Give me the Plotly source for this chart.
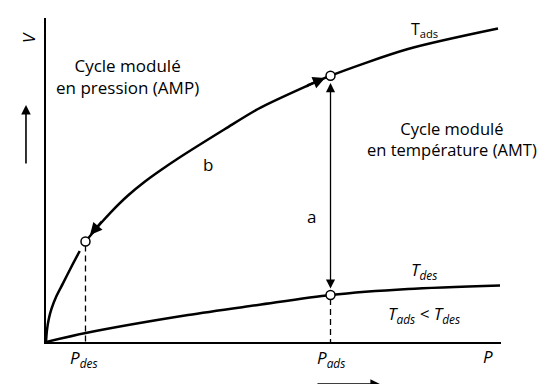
import plotly.graph_objects as go

# ---- data (P, V in arbitrary units) ----
tads_low_p = [0.0, 0.02, 0.06, 0.12, 0.23, 0.37, 0.55, 0.741]
tads_low_v = [0.0, 0.35, 0.70, 1.02, 1.42, 1.80, 2.30, 2.809]
tads_high_p = [0.868, 1.209, 1.429, 1.802, 2.176, 2.527, 2.901, 3.934, 4.659, 5.758, 6.253, 7.956, 9.934]
tads_high_v = [3.10, 3.673, 4.012, 4.522, 4.954, 5.309, 5.664, 6.574, 7.191, 7.917, 8.219, 9.043, 9.676]
tdes_p = [0.0, 0.873, 3.121, 4.659, 6.253, 7.956, 9.978]
tdes_v = [0.0, 0.278, 0.833, 1.142, 1.451, 1.636, 1.744]

p_des = 0.868
p_ads = 6.253
v_des_point = 3.10      # on T_ads at P_des
v_ads_point = 8.219     # on T_ads at P_ads
v_tdes_point = 1.451    # on T_des at P_ads

FONT = "Open Sans"
BLACK = "black"

fig = go.Figure()

curve = dict(color=BLACK, width=2.5, shape="spline", smoothing=0.8)
fig.add_trace(go.Scatter(x=tads_low_p, y=tads_low_v, mode="lines", line=curve, hoverinfo="skip"))
fig.add_trace(go.Scatter(x=tads_high_p, y=tads_high_v, mode="lines", line=curve, hoverinfo="skip"))
fig.add_trace(go.Scatter(x=tdes_p, y=tdes_v, mode="lines", line=curve, hoverinfo="skip"))

# dashed drop lines
fig.add_trace(go.Scatter(x=[p_des, p_des], y=[v_des_point - 0.12, 0], mode="lines",
                         line=dict(color=BLACK, width=1.3, dash="6px,4px"), hoverinfo="skip"))
fig.add_trace(go.Scatter(x=[p_ads, p_ads], y=[v_tdes_point - 0.12, 0], mode="lines",
                         line=dict(color=BLACK, width=1.3, dash="6px,4px"), hoverinfo="skip"))

ann = []

def arrow(x0, y0, x1, y1, width=2, size=1.0, side="end", head=2):
    ann.append(dict(x=x1, y=y1, ax=x0, ay=y0, xref="x", yref="y", axref="x", ayref="y",
                    text="", showarrow=True, arrowhead=head, arrowsize=size,
                    arrowwidth=width, arrowcolor=BLACK, arrowside=side,
                    startarrowhead=head, startarrowsize=size, standoff=0, startstandoff=0))

def paper_arrow(x, y, ax, ay, width=1.6, size=1.2, head=2):
    ann.append(dict(x=x, y=y, xref="paper", yref="paper", axref="pixel", ayref="pixel",
                    ax=ax, ay=ay, text="", showarrow=True, arrowhead=head, arrowsize=size,
                    arrowwidth=width, arrowcolor=BLACK, standoff=0))

# cycle b arrows along T_ads
arrow(1.253, 3.765, 0.967, 3.30, width=2.2, size=1.1)
arrow(5.714, 7.901, 6.132, 8.148, width=2.2, size=1.1)
# cycle a vertical double arrow
arrow(p_ads, 1.605, p_ads, 7.99, width=1.3, size=1.4, side="end+start")
# axis direction arrows (outside plot area, paper coordinates)
paper_arrow(-0.044, 0.7315, 0, 60)
paper_arrow(0.734, -0.130, -64, 0)

def text(x, y, s, size=17, angle=0):
    ann.append(dict(x=x, y=y, xref="paper", yref="paper", text=s, showarrow=False,
                    xanchor="center", yanchor="middle",
                    font=dict(family=FONT, size=size, color=BLACK), textangle=angle))

text(-0.0396, 0.941, "<i>V</i>", size=17, angle=-90)
text(0.180, 0.818, "Cycle modulé<br>en pression (AMP)", size=17)
text(0.893, 0.627, "Cycle modulé<br>en température (AMT)", size=16.5)
text(0.356, 0.547, "b", size=17)
text(0.583, 0.388, "a", size=17)
text(0.831, 0.963, "T<sub>ads</sub>", size=16)
text(0.831, 0.222, "<i>T<sub>des</sub></i>", size=17)
text(0.830, 0.0864, "<i>T<sub>ads</sub> &lt; T<sub>des</sub></i>", size=17)
text(0.0835, -0.052, "<i>P<sub>des</sub></i>", size=17)
text(0.626, -0.052, "<i>P<sub>ads</sub></i>", size=17)
text(0.971, -0.046, "<i>P</i>", size=17)

# circles
fig.add_trace(go.Scatter(x=[p_des, p_ads, p_ads], y=[v_des_point, v_ads_point, v_tdes_point],
                         mode="markers",
                         marker=dict(size=9, color="white", line=dict(color=BLACK, width=1.5)),
                         hoverinfo="skip"))

fig.update_layout(
    width=547, height=384,
    margin=dict(l=38, r=54, t=10, b=50),
    paper_bgcolor="white", plot_bgcolor="white",
    showlegend=False,
    annotations=ann,
    font=dict(family=FONT, color=BLACK),
)
fig.update_xaxes(range=[0, 10], showline=True, linecolor=BLACK, linewidth=2,
                 showgrid=False, zeroline=False, showticklabels=False, ticks="")
fig.update_yaxes(range=[0, 10], showline=True, linecolor=BLACK, linewidth=2,
                 showgrid=False, zeroline=False, showticklabels=False, ticks="")

fig.write_html("out.html")
